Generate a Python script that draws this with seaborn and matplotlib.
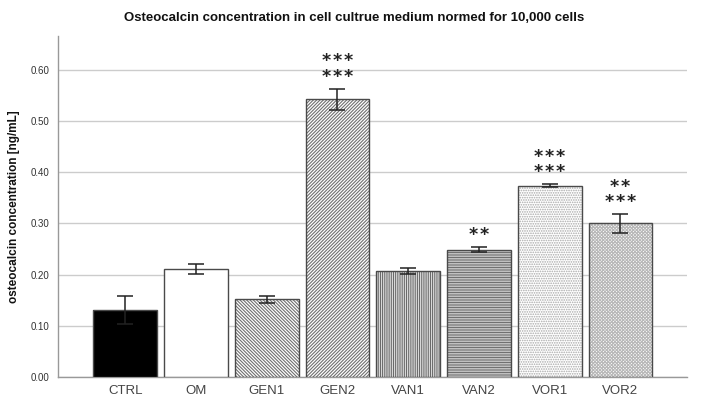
import matplotlib
matplotlib.use("Agg")
import matplotlib.pyplot as plt
import seaborn as sns
import pandas as pd

groups = ["CTRL", "OM", "GEN1", "GEN2", "VAN1", "VAN2", "VOR1", "VOR2"]
means = [0.131, 0.211, 0.152, 0.542, 0.207, 0.249, 0.374, 0.300]
errors = [0.027, 0.009, 0.007, 0.021, 0.005, 0.005, 0.002, 0.018]
stars_low = ["", "", "", "***", "", "**", "***", "***"]
stars_high = ["", "", "", "***", "", "", "***", "**"]

sns.set_theme(style="white")
plt.rcParams["font.family"] = ["Liberation Sans", "DejaVu Sans"]
plt.rcParams["hatch.linewidth"] = 0.8

df = pd.DataFrame({"group": groups, "value": means})

fig = plt.figure(figsize=(7.01, 4.03), dpi=100)
ax = fig.add_axes([0.0827, 0.0645, 0.8973, 0.8462])

sns.barplot(data=df, x="group", y="value", order=groups, width=0.9,
            color="white", errorbar=None, ax=ax, zorder=3)

# fill + hatch (hatch colour follows edge colour), outline drawn on top
faces = ["black", "white", "white", "white", "white", "white", "white", "white"]
hatches = [None, None, "\\" * 10, "/" * 10, "|" * 9, "-" * 10, "." * 7, "x" * 10]
hatch_cols = ["black", "white", "#707070", "#707070", "#6a6a6a", "#707070", "#a8a8a8", "#b8b8b8"]
for bar, fc, h, hc in zip(ax.patches, faces, hatches, hatch_cols):
    bar.set_facecolor(fc)
    bar.set_edgecolor(hc)
    bar.set_linewidth(0)
    if h:
        bar.set_hatch(h)

xs = list(range(len(groups)))
ax.bar(xs, means, width=0.9, fill=False, edgecolor="#4a4a4a", linewidth=1.0, zorder=3.5)

ax.errorbar(xs, means, yerr=errors, fmt="none", ecolor="#222222",
            elinewidth=1.1, capsize=6, capthick=1.1, zorder=4)

hair = "\u200a"
for x, m, e, lo, hi in zip(xs, means, errors, stars_low, stars_high):
    if lo:
        label = hair.join(lo) if not hi else hair.join(hi) + "\n" + hair.join(lo)
        ax.text(x, m + e + 0.014, label, ha="center", va="baseline",
                multialignment="center", linespacing=0.82,
                fontsize=12.5, fontweight="bold", color="#222222",
                family="DejaVu Sans")

ax.set_xlim(-0.95, 7.94)
ax.set_ylim(0, 0.666)
ax.set_yticks([0.0, 0.1, 0.2, 0.3, 0.4, 0.5, 0.6])
ax.set_yticklabels([f"{v:.2f}" for v in [0.0, 0.1, 0.2, 0.3, 0.4, 0.5, 0.6]])
ax.yaxis.grid(True, color="#cccccc", linewidth=1.0, zorder=0)
ax.set_axisbelow(True)
ax.tick_params(axis="y", length=0, labelsize=7, labelcolor="#333333", pad=6)
ax.tick_params(axis="x", length=0, labelsize=9.5, labelcolor="#444444", pad=6)
ax.set_xlabel("")
ax.set_ylabel("osteocalcin concentration [ng/mL]", fontsize=8.5,
              fontweight="bold", color="#111111", labelpad=8)
for s in ["top", "right"]:
    ax.spines[s].set_visible(False)
for s in ["left", "bottom"]:
    ax.spines[s].set_color("#999999")
    ax.spines[s].set_linewidth(1.0)

fig.text(0.505, 0.955, "Osteocalcin concentration in cell cultrue medium normed for 10,000 cells",
         ha="center", va="center", fontsize=9.5, fontweight="bold", color="#111111")

fig.savefig("out.png", dpi=100)
